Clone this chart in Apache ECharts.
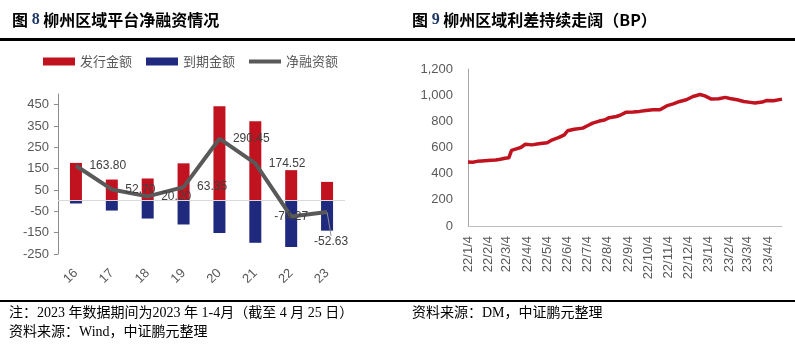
<!DOCTYPE html>
<html><head><meta charset="utf-8">
<script src="https://cdn.jsdelivr.net/npm/echarts@6/dist/echarts.min.js"></script>
<style>html,body{margin:0;padding:0;background:#fff}#c{width:795px;height:346px}</style>
</head><body><div id="c"></div>
<script>
// ---- Figure 8 data ----
const years = ['16', '17', '18', '19', '20', '21', '22', '23'];
const issuance = [177, 99, 104, 175, 442, 372, 143, 88];
const maturity = [-13.2, -46.3, -83.8, -111.65, -151.55, -197.48, -217.27, -140.63];
const netFinancing = [163.80, 52.70, 20.20, 63.35, 290.45, 174.52, -74.27, -52.63];
const leftTicks = [-250, -150, -50, 50, 150, 250, 350, 450];

// ---- Figure 9 data ----
const spreadDates = ['2022-01-04','2022-01-11','2022-01-18','2022-01-25','2022-02-08','2022-02-15','2022-02-22','2022-03-01','2022-03-07','2022-03-09','2022-03-11','2022-03-17','2022-03-25','2022-03-28','2022-04-01','2022-04-11','2022-04-21','2022-05-04','2022-05-12','2022-05-22','2022-05-30','2022-06-04','2022-06-14','2022-06-27','2022-07-04','2022-07-12','2022-07-22','2022-07-30','2022-08-06','2022-08-17','2022-08-24','2022-09-01','2022-09-11','2022-09-21','2022-10-01','2022-10-11','2022-10-22','2022-11-01','2022-11-11','2022-11-21','2022-12-01','2022-12-11','2022-12-22','2022-12-29','2023-01-08','2023-01-19','2023-01-29','2023-02-05','2023-02-16','2023-02-26','2023-03-08','2023-03-15','2023-03-26','2023-04-02','2023-04-12','2023-04-25'];
const spreadValues = [490,488,494,497,502,504,510,518,522,510,578,588,600,612,625,620,628,636,659,677,697,728,740,748,766,786,802,810,828,837,850,870,871,876,883,888,889,918,933,952,965,990,1005,995,970,973,983,975,965,952,945,940,947,960,957,970];
const spreadTickDates = ['2022-01-04','2022-02-04','2022-03-04','2022-04-04','2022-05-04','2022-06-04','2022-07-04','2022-08-04','2022-09-04','2022-10-04','2022-11-04','2022-12-04','2023-01-04','2023-02-04','2023-03-04','2023-04-04'];
const spreadStart = '2022-01-04';
const spreadEnd = '2023-04-25';

function ts(s) { const p = s.split('-'); return new Date(+p[0], +p[1] - 1, +p[2]).getTime(); }
function fmtDate(v) { const d = new Date(v); return String(d.getFullYear()).slice(2) + '/' + (d.getMonth() + 1) + '/' + d.getDate(); }

const SANS = "'Liberation Sans', Arial, 'Noto Sans CJK SC', sans-serif";
const CJK = "'Noto Sans CJK SC', sans-serif";
const SERIF = "'Liberation Serif', 'Noto Sans CJK SC', serif";
const RED = '#C1121F', BLUE = '#1F2A7F', GRAY = '#595959';

const chart = echarts.init(document.getElementById('c'), null, { renderer: 'canvas' });

const labelData = netFinancing.map((v, i) => {
  if (i === 6) return { value: v, label: { position: 'inside', offset: [-12, 9] } };
  if (i === 7) return { value: v, label: { position: 'inside' }, labelLine: { show: true, length2: 0, lineStyle: { color: '#8c8c8c', width: 1 } } };
  return v;
});

chart.setOption({
  animation: false,
  textStyle: { fontFamily: SANS },
  legend: {
    left: 43, top: 55, padding: 0, itemWidth: 32, itemHeight: 8, itemGap: 14,
    textStyle: { fontSize: 13, color: GRAY, fontFamily: CJK },
    data: [
      { name: '发行金额', icon: 'rect' },
      { name: '到期金额', icon: 'rect' },
      { name: '净融资额', icon: 'path://M0 0H32V4H0Z' }
    ]
  },
  grid: [
    { left: 58, top: 94, width: 287, height: 160 },
    { left: 468, top: 69, width: 314, height: 157 }
  ],
  xAxis: [
    {
      gridIndex: 0, type: 'category', data: years,
      axisLine: { show: false, onZero: false }, axisTick: { show: false },
      axisLabel: { rotate: 45, margin: 17, fontSize: 13, color: GRAY }
    },
    {
      gridIndex: 1, type: 'value', min: ts(spreadStart), max: ts(spreadEnd),
      axisLine: { show: true, lineStyle: { color: '#bfbfbf' } },
      axisTick: { show: false }, splitLine: { show: false },
      axisLabel: {
        rotate: 90, margin: 10, fontSize: 13, color: GRAY, hideOverlap: false,
        customValues: spreadTickDates.map(ts), formatter: v => fmtDate(v)
      }
    }
  ],
  yAxis: [
    {
      gridIndex: 0, type: 'value', min: -250, max: 500,
      axisLine: { show: true, lineStyle: { color: '#8c8c8c' } },
      axisTick: { show: true, inside: false, length: 4, customValues: leftTicks, lineStyle: { color: '#8c8c8c' } },
      axisLabel: { fontSize: 13, color: GRAY, margin: 9, customValues: leftTicks },
      splitLine: { show: false }
    },
    {
      gridIndex: 1, type: 'value', min: 0, max: 1200, interval: 200,
      axisLine: { show: true, lineStyle: { color: '#a6a6a6' } },
      axisTick: { show: false }, splitLine: { show: false },
      axisLabel: { fontSize: 13, color: GRAY, margin: 15, formatter: v => v.toLocaleString('en-US') }
    }
  ],
  series: [
    {
      name: '发行金额', type: 'bar', xAxisIndex: 0, yAxisIndex: 0, stack: 'a',
      barWidth: 12, data: issuance, itemStyle: { color: RED },
      markLine: {
        silent: true, symbol: 'none', label: { show: false },
        lineStyle: { color: '#d9d9d9', type: 'solid', width: 1 },
        data: [{ yAxis: 0 }]
      }
    },
    {
      name: '到期金额', type: 'bar', xAxisIndex: 0, yAxisIndex: 0, stack: 'a',
      barWidth: 12, data: maturity, itemStyle: { color: BLUE }
    },
    {
      name: '净融资额', type: 'line', xAxisIndex: 0, yAxisIndex: 0, z: 5,
      data: netFinancing, symbol: 'none',
      lineStyle: { color: GRAY, width: 4 }, itemStyle: { color: GRAY }
    },
    {
      name: '净融资额标签', type: 'line', xAxisIndex: 0, yAxisIndex: 0, zlevel: 1, z: 8,
      data: labelData, symbol: 'circle', symbolSize: 1, showSymbol: true,
      lineStyle: { color: 'rgba(0,0,0,0)', width: 0 }, itemStyle: { color: 'rgba(0,0,0,0)' },
      label: {
        show: true, position: 'right', distance: 13, fontSize: 12, color: '#404040',
        formatter: p => p.value.toFixed(2)
      },
      labelLayout: p => (p.dataIndex === 7 ? { dx: 4, dy: 30 } : {})
    },
    {
      name: '利差', type: 'line', xAxisIndex: 1, yAxisIndex: 1,
      data: spreadDates.map((d, i) => [ts(d), spreadValues[i]]),
      symbol: 'none', lineStyle: { color: RED, width: 3.5 }, itemStyle: { color: RED }
    }
  ],
  graphic: [
    { type: 'rect', shape: { x: 0, y: 38, width: 795, height: 3 }, style: { fill: '#000' } },
    { type: 'rect', shape: { x: 0, y: 300, width: 795, height: 2 }, style: { fill: '#000' } },
    {
      type: 'text', x: 12, y: 20,
      style: {
        text: '{a|图 }{b|8}{a| 柳州区域平台净融资情况}', verticalAlign: 'middle',
        rich: {
          a: { fontSize: 16, fontWeight: 'bold', fontFamily: CJK, fill: '#000' },
          b: { fontSize: 16, fontWeight: 'bold', fontFamily: "'Liberation Serif', serif", fill: '#1f3864' }
        }
      }
    },
    {
      type: 'text', x: 412, y: 20,
      style: {
        text: '{a|图 }{b|9}{a| 柳州区域利差持续走阔（BP）}', verticalAlign: 'middle',
        rich: {
          a: { fontSize: 16, fontWeight: 'bold', fontFamily: CJK, fill: '#000' },
          b: { fontSize: 16, fontWeight: 'bold', fontFamily: "'Liberation Serif', serif", fill: '#1f3864' }
        }
      }
    },
    {
      type: 'text', x: 9, y: 313,
      style: { text: '注：2023 年数据期间为2023 年 1-4月（截至 4 月 25 日）', verticalAlign: 'middle', fontSize: 14, fontFamily: SERIF, fill: '#000' }
    },
    {
      type: 'text', x: 9, y: 332,
      style: { text: '资料来源：Wind，中证鹏元整理', verticalAlign: 'middle', fontSize: 14, fontFamily: SERIF, fill: '#000' }
    },
    {
      type: 'text', x: 412, y: 313,
      style: { text: '资料来源：DM，中证鹏元整理', verticalAlign: 'middle', fontSize: 14, fontFamily: SERIF, fill: '#000' }
    }
  ]
});
</script>
</body></html>
